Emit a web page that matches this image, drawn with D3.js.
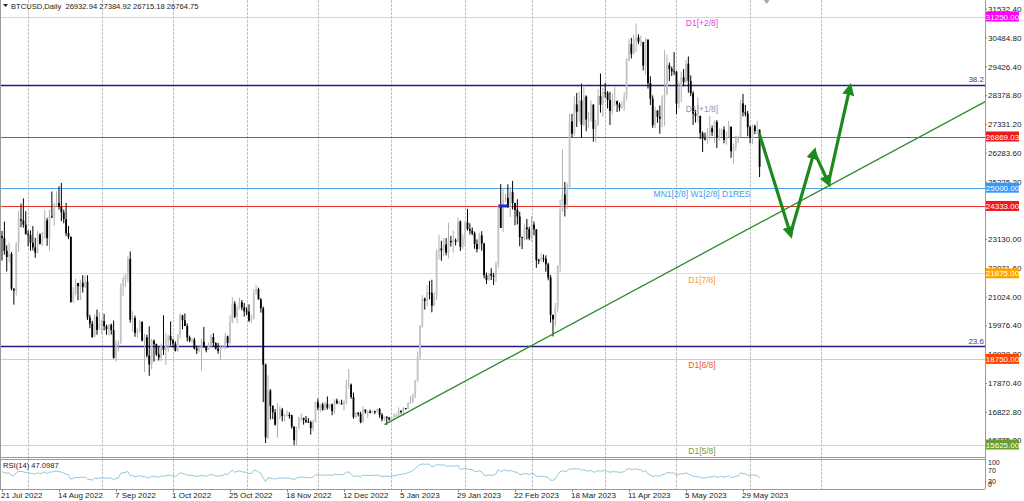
<!DOCTYPE html>
<meta charset="utf-8">
<head>
<title>BTCUSD Daily</title>
<style>
body { margin: 0; background: #fff; overflow: hidden; }
text { font-family: "Liberation Sans", Arial, sans-serif; }
</style>
</head>
<body>
<script src="https://d3js.org/d3.v7.min.js"></script>
<div id="chart"></div>
<script>

// daily bars from 7 Jul 2022 (first 14 bars sit left of the window)
var firstDay = Date.UTC(2022, 6, 7);
var firstOpen = 20550;

var closes = [
  21600,21590,21590,20860,19970,19330,20210,20570,20840,21190,20780,22490,23390,23230,23160,22700,22470,22580,21310,21250,22950,23850,23800,23650,23300,
  23270,22990,22820,22630,23290,22960,23180,23810,23160,23950,23940,24400,24440,24300,24100,23850,23340,23210,20830,21140,21520,21400,21530,21370,21570,20260,20040,19550,20290,19810,20050,
  20130,19950,19830,19990,19800,18790,19290,19320,21380,21650,21830,22400,20180,20240,19700,19800,20110,19420,19540,18880,18550,19410,19290,18920,18800,19220,19080,19410,19590,19430,
  19310,19050,19620,20340,20160,19950,19530,19420,19450,19130,19060,19150,19380,19180,19070,19260,19550,19330,19120,19040,19170,19200,19570,19330,20090,20770,20290,20600,20820,20630,20490,
  20480,20150,20210,21150,21300,20920,20600,18540,15880,17590,17040,16800,16350,16620,16900,16660,16690,16700,16690,16280,15780,16230,16600,16600,16520,16460,16440,16220,16440,17170,
  16970,17090,16890,17110,16970,17090,16840,17230,17130,17130,17090,17210,17780,17810,17360,16630,16780,16740,16440,16900,16820,16830,16780,16840,16830,16920,16700,16550,16640,16600,16540,
  16620,16680,16680,16850,16830,16950,16940,17130,17190,17440,17940,18850,19930,20950,20870,21170,21160,20690,21080,22680,22780,22710,22930,22630,23060,23010,23080,23030,23770,22840,23130,
  23730,23490,23430,23330,22940,22760,23260,22960,21800,21630,21860,21790,21780,22200,24330,23530,24570,24630,24280,24840,24440,24190,23950,23200,23160,23550,23490,23150,
  23650,23480,22360,22350,22430,22410,22200,21720,20360,20190,20630,22160,24200,24750,24380,25050,27420,26970,28040,27770,28180,27300,28330,27490,27490,28030,27140,27270,28350,28030,28480,
  28460,28200,27800,28170,28170,28040,27920,27950,28330,29650,30240,29890,30400,30490,30320,30320,29450,30400,28820,28250,27280,27820,27590,27520,28300,28420,29470,29340,29250,29230,
  28070,28680,29030,28850,29530,28900,28450,27700,27620,27620,26990,26800,26780,26930,27170,27030,27400,26830,26890,27120,26750,26850,27230,26330,26480,26720,26870,28080,27750,27700,27210,
  26820,27250,27070,27120,25760
];
var highs = [
  21810,22300,21680,21600,20860,20010,20220,20790,21160,21560,21650,22700,23740,24200,23420,23760,22900,23000,22650,21330,23010,24140,24420,24610,24140,
  23440,23440,23600,23170,23430,23340,23390,24200,23900,24190,24860,24440,24870,25050,25170,24200,24450,23600,23200,21370,21680,21520,21650,21800,21800,21800,20360,20140,20380,20550,20450,
  20190,20400,20000,20020,20040,20150,19430,19420,21500,21750,21830,22490,22670,20490,20330,19890,20170,20100,19660,19630,19940,19480,19460,19310,19180,19310,20340,19700,19630,20120,
  19480,19390,19650,20410,20360,20410,20040,19600,19520,19520,19230,19200,19490,19920,19210,19350,19650,19690,19360,19330,19240,19250,19690,19600,20340,21000,20860,20700,20990,20900,20790,
  20640,20740,20370,21300,21450,21350,20970,20660,18580,18150,17650,17050,16920,17140,17020,16960,16740,16870,16800,16720,16290,16280,16640,16760,16600,16670,16590,16490,16530,17200,
  17300,17100,17150,17180,17380,17100,17120,17280,17300,17220,17260,17240,17980,18380,17850,17520,16800,16810,16820,17020,16900,16860,16900,16860,16860,16940,16960,16770,16650,16650,16630,
  16630,16760,16760,16980,16880,16990,16960,17170,17390,17480,17990,19020,19990,21080,20990,21440,21600,21640,21190,22750,23280,23060,23160,23160,23720,23240,23430,23150,23910,23800,23290,
  23790,24230,23700,23550,23400,23110,23360,23410,22990,21900,21890,22060,21890,22300,24360,25130,25000,24780,25120,25020,25250,24450,24580,24120,23210,23660,23860,23580,
  23960,23760,23480,22410,22600,22560,22530,22260,21810,20360,20790,22160,24570,26390,25210,25180,27690,27700,28360,28460,28500,28800,28730,28370,27760,28180,28050,27480,28600,29170,28640,
  28820,28530,28500,28440,28670,28170,28110,28150,28490,29730,30430,30470,30580,31000,30600,30550,30320,30470,30420,29070,28370,27950,27820,28000,28370,30020,29860,29570,29420,29950,
  29260,28880,29230,29330,29670,29790,29100,28520,27840,28300,27630,27050,27010,27170,27620,27270,27460,27470,27170,27150,27240,27050,27440,27230,26610,26900,26900,28210,28420,28020,27810,
  27270,27300,27300,27450,27130
];
var lows = [
  20240,21040,21320,20690,19940,19260,18970,19650,20410,20510,20770,20770,21690,23060,22340,22560,21940,22280,21250,20730,21070,22650,23560,23540,23300,
  22860,22700,22710,22440,22590,22920,22880,23150,22880,22700,23900,23600,24310,24200,23780,23700,23230,23120,20800,20810,21070,20890,20890,21170,21340,20170,19870,19520,19600,19630,19800,
  19650,19790,19630,19600,19640,18760,18640,19030,19310,21050,21380,21560,20070,19730,19560,19520,19710,19390,18270,18800,18130,18370,18650,18860,18690,18680,18890,18520,19010,19240,
  19160,19020,19010,19500,19830,19950,19390,19360,19320,19090,18930,18990,18310,19150,18990,19070,19180,19200,19090,18940,18710,19130,19090,19160,19270,20060,20240,20050,20560,20530,20290,
  20340,20100,20070,20190,21090,20920,20440,17170,15680,15820,16540,16550,16310,15870,16550,16470,16460,16640,16570,16200,15600,15600,16180,16460,16350,16410,16430,15990,16110,16440,
  16880,16800,16860,16880,16900,16910,16690,16740,17100,17090,17080,16870,17090,17660,17290,16560,16590,16650,16400,16430,16750,16600,16760,16780,16730,16790,16600,16470,16490,16340,16500,
  16500,16570,16620,16660,16750,16680,16910,16910,17100,17150,17320,17920,18720,19890,20550,20670,20920,20450,20670,20910,22380,22330,22500,22530,22420,22850,22630,22890,23000,22690,22760,
  22860,23440,23290,23260,22770,22640,22750,22700,21690,21480,21600,21630,21450,21550,22080,23540,23390,24470,24280,23930,24200,23630,23660,22860,22760,23080,23110,23080,
  23030,23260,22080,22210,22300,22280,21930,21620,20070,19570,19960,20450,21910,24120,23950,24220,24930,26830,26900,27220,27400,26810,27240,27060,27170,27400,26680,26650,27260,27740,27590,
  28280,27890,27290,27680,27970,27760,27790,27880,27810,28180,29630,29720,29880,29960,30240,30160,29280,29120,28620,28020,27180,27180,27370,26970,27210,27260,28380,28890,29080,29110,
  27680,27890,28130,28700,28830,28470,28340,27290,27380,27380,26770,26300,26720,26580,26760,26890,26640,26450,26710,26850,26620,26570,26840,26090,25870,26350,26630,26840,27600,27600,26880,
  26620,26600,26950,26960,25390
];

var priceTicks = [31532.40, 30484.80, 29426.40, 28378.80, 27331.20, 26283.60, 25225.20,
  23130.00, 22071.60, 21024.00, 19976.40, 18928.80, 17870.40, 16822.80, 15775.20];
var dateTicks = ["2022-07-21", "2022-08-14", "2022-09-07", "2022-10-01", "2022-10-25", "2022-11-18",
  "2022-12-12", "2023-01-05", "2023-01-29", "2023-02-22", "2023-03-18", "2023-04-11", "2023-05-05", "2023-05-29"];

// murrey levels
var levelPrices = [31250, 28125, 25000, 21875, 18750, 15625];
var levelNames = ["D1[+2/8]", "D1[+1/8]", "MN1[2/8] W1[2/8] D1RES", "D1[7/8]", "D1[6/8]", "D1[5/8]"];
var redLevels = [26869.03, 24333];
var fibPrices = [28760, 19210];
var fibNames = ["38.2", "23.6"];
var tagPrices = [31250, 26869.03, 25000, 24333, 21875, 18750, 15625];

// drawn forecast and trend line (date, price)
var arrowDates = ["2023-06-05", "2023-06-18", "2023-06-28", "2023-07-04", "2023-07-13"];
var arrowPrices = [26933, 23310, 26310, 25180, 28650];
var trendDates = ["2022-12-29", "2023-09-08"];
var trendPrices = [16350, 28140];
var markDates = ["2023-02-15", "2023-02-19"];
var markPrice = 24333;

var headerText = "BTCUSD,Daily  26932.94 27384.92 26715.18 26764.75";
var rsiText = "RSI(14) 47.0987";
var rsiTicks = [100, 70, 30, 0];

// styles
var levelLine = ["#f4bcf4", null, "#4aa3e8", "#f0dca8", "#ebc6b6", "#cdd4c2"];
var levelText = ["#dc44dc", "#8c96a8", "#3f9ce6", "#eea030", "#e45a36", "#76983e"];
var tagFill = ["#ff00ff", "#ee1a1a", "#3399ff", "#ee1a1a", "#ffa500", "#ff4500", "#6b9e2e"];

var width = 1024, height = 501;
var plotR = 985, mainB = 457, rsiT = 460, rsiB = 489;

var parse = d3.utcParse("%Y-%m-%d");
var dayOf = function (i) { return new Date(firstDay + i * 864e5); };

var x = d3.scaleUtc()
    .domain([parse("2022-07-21"), parse("2023-06-01")])
    .range([2, 750.1]);
var y = d3.scaleLinear()
    .domain([15625, 31250])
    .range([444.5, 16.5]);
var ry = d3.scaleLinear()
    .domain([0, 100])
    .range([488, 461]);

var bars = closes.map(function (c, i) {
  var o = i === 0 ? firstOpen : closes[i - 1];
  return { date: dayOf(i), o: o, h: Math.max(highs[i], o, c), l: Math.min(lows[i], o, c), c: c };
});

// RSI(14), Wilder smoothing
function rsi(vals, n) {
  var out = [], g = 0, l = 0;
  for (var i = 1; i < vals.length; i++) {
    var d = vals[i] - vals[i - 1];
    var up = Math.max(d, 0), dn = Math.max(-d, 0);
    if (i <= n) { g += up / n; l += dn / n; }
    else { g = (g * (n - 1) + up) / n; l = (l * (n - 1) + dn) / n; }
    if (i >= n) out.push({ date: dayOf(i), v: l === 0 ? 100 : 100 - 100 / (1 + g / l) });
  }
  return out;
}
var rsiData = rsi(closes, 14);

var svg = d3.select("#chart").append("svg")
    .attr("width", width)
    .attr("height", height)
    .style("display", "block");

var defs = svg.append("defs");
defs.append("clipPath").attr("id", "mainClip")
  .append("rect").attr("x", 0).attr("y", 0).attr("width", plotR).attr("height", mainB);
defs.append("clipPath").attr("id", "rsiClip")
  .append("rect").attr("x", 0).attr("y", rsiT).attr("width", plotR).attr("height", rsiB - rsiT);
defs.append("marker").attr("id", "head")
    .attr("viewBox", "0 0 10 10").attr("refX", 6).attr("refY", 5)
    .attr("markerWidth", 3.8).attr("markerHeight", 3.8)
    .attr("orient", "auto")
  .append("path").attr("d", "M0,0L10,5L0,10z").attr("fill", "#1c8a1c");

// month grid
var months = d3.utcMonth.range(parse("2022-07-21"), parse("2023-07-15"));
svg.append("g").selectAll("line").data(months).enter().append("line")
    .attr("x1", function (d) { return Math.round(x(d)) + 0.5; })
    .attr("x2", function (d) { return Math.round(x(d)) + 0.5; })
    .attr("y1", 0).attr("y2", rsiB)
    .attr("stroke", "#c4c4c4").attr("stroke-dasharray", "3,1");

var main = svg.append("g").attr("clip-path", "url(#mainClip)");

// level lines
levelPrices.forEach(function (p, i) {
  if (!levelLine[i]) return;
  main.append("line").attr("x1", 0).attr("x2", plotR)
      .attr("y1", Math.round(y(p)) + 0.5).attr("y2", Math.round(y(p)) + 0.5)
      .attr("stroke", levelLine[i]).attr("stroke-width", 1.2);
});
redLevels.forEach(function (p) {
  main.append("line").attr("x1", 0).attr("x2", plotR)
      .attr("y1", Math.round(y(p)) + 0.5).attr("y2", Math.round(y(p)) + 0.5)
      .attr("stroke", "#e6322c").attr("stroke-width", 1.2);
});
fibPrices.forEach(function (p, i) {
  main.append("line").attr("x1", 0).attr("x2", plotR)
      .attr("y1", Math.round(y(p)) + 0.5).attr("y2", Math.round(y(p)) + 0.5)
      .attr("stroke", "#1e1e86").attr("stroke-width", 1.4);
  main.append("text").attr("x", plotR - 1).attr("y", y(p) - 2.5)
      .attr("text-anchor", "end").attr("font-size", "8px").attr("fill", "#3a3a9a")
      .text(fibNames[i]);
});

// candles
var candles = main.append("g").selectAll("g").data(bars).enter().append("g");
candles.append("line")
    .attr("x1", function (d) { return x(d.date); })
    .attr("x2", function (d) { return x(d.date); })
    .attr("y1", function (d) { return y(d.h); })
    .attr("y2", function (d) { return y(d.l); })
    .attr("stroke", function (d) { return d.c >= d.o ? "#b0b0b0" : "#000"; })
    .attr("stroke-width", 1);
candles.append("rect")
    .attr("x", function (d) { return x(d.date) - 0.9; })
    .attr("width", 1.8)
    .attr("y", function (d) { return y(Math.max(d.o, d.c)); })
    .attr("height", function (d) { return Math.max(1, Math.abs(y(d.o) - y(d.c))); })
    .attr("fill", function (d) { return d.c >= d.o ? "#c4c4c4" : "#000"; });

// small trade mark
main.append("rect")
    .attr("x", x(parse(markDates[0]))).attr("width", x(parse(markDates[1])) - x(parse(markDates[0])))
    .attr("y", y(markPrice) - 1.5).attr("height", 3)
    .attr("fill", "#2a2ad0");

// level labels
levelPrices.forEach(function (p, i) {
  main.append("text").attr("x", 702).attr("y", y(p) + 9.5)
      .attr("text-anchor", "middle").attr("font-size", "8.5px").attr("fill", levelText[i])
      .text(levelNames[i]);
});

// trend line
var tA = [x(parse(trendDates[0])), y(trendPrices[0])];
var tB = [x(parse(trendDates[1])), y(trendPrices[1])];
main.append("line")
    .attr("x1", tA[0]).attr("y1", tA[1]).attr("x2", tB[0]).attr("y2", tB[1])
    .attr("stroke", "#2e8b2e").attr("stroke-width", 1.3);

// forecast arrows
var pts = arrowDates.map(function (d, i) { return [x(parse(d)), y(arrowPrices[i])]; });
for (var k = 0; k < pts.length - 1; k++) {
  main.append("line")
      .attr("x1", pts[k][0]).attr("y1", pts[k][1])
      .attr("x2", pts[k + 1][0]).attr("y2", pts[k + 1][1])
      .attr("stroke", "#1c8a1c").attr("stroke-width", 3.2)
      .attr("stroke-linecap", "round")
      .attr("marker-end", "url(#head)");
}

// header
svg.append("path").attr("d", "M3,4L8,4L5.5,7z").attr("fill", "#222");
svg.append("text").attr("x", 11).attr("y", 9).attr("font-size", "7.6px").attr("fill", "#222")
    .attr("xml:space", "preserve").style("white-space", "pre").text(headerText);
svg.append("path").attr("d", "M" + (x(bars[bars.length - 1].date) + 4) + ",0l6,0l-3,4z").attr("fill", "#a8a8a8");

// rsi pane
var rsiG = svg.append("g").attr("clip-path", "url(#rsiClip)");
rsiG.append("path").datum(rsiData)
    .attr("fill", "none").attr("stroke", "#93c6db").attr("stroke-width", 1)
    .attr("d", d3.line().x(function (d) { return x(d.date); }).y(function (d) { return ry(d.v); }));
svg.append("text").attr("x", 3).attr("y", 468).attr("font-size", "7.6px").attr("fill", "#222").text(rsiText);

// frames
svg.append("line").attr("x1", 0).attr("x2", plotR).attr("y1", mainB + 0.5).attr("y2", mainB + 0.5).attr("stroke", "#9a9a9a");
svg.append("line").attr("x1", 0).attr("x2", plotR).attr("y1", rsiT - 0.5).attr("y2", rsiT - 0.5).attr("stroke", "#9a9a9a");
svg.append("line").attr("x1", 0).attr("x2", plotR).attr("y1", rsiB + 0.5).attr("y2", rsiB + 0.5).attr("stroke", "#9a9a9a");
svg.append("line").attr("x1", plotR + 0.5).attr("x2", plotR + 0.5).attr("y1", 0).attr("y2", rsiB).attr("stroke", "#9a9a9a");
svg.append("line").attr("x1", 0.5).attr("x2", 0.5).attr("y1", 0).attr("y2", rsiB).attr("stroke", "#9a9a9a");

// price axis
var yAxis = svg.append("g").attr("transform", "translate(" + plotR + ",0)")
    .call(d3.axisRight(y).tickValues(priceTicks).tickFormat(d3.format(".2f")).tickSize(2));
yAxis.select(".domain").remove();
yAxis.selectAll("line").attr("stroke", "#888");
yAxis.selectAll("text").attr("x", 3).attr("font-size", "8px").attr("fill", "#222")
    .attr("font-family", "Liberation Sans, Arial, sans-serif");

tagPrices.forEach(function (p, i) {
  var g = svg.append("g").attr("transform", "translate(" + (plotR + 1) + "," + y(p) + ")");
  g.append("rect").attr("x", 0).attr("y", -5).attr("width", 33).attr("height", 10).attr("fill", tagFill[i]);
  g.append("text").attr("x", 16.5).attr("y", 3).attr("text-anchor", "middle")
      .attr("font-size", "8px").attr("fill", "#fff").text(d3.format(".2f")(p));
});

rsiTicks.forEach(function (v) {
  svg.append("text").attr("x", 988).attr("y", Math.min(Math.max(ry(v) + 4, 465), 487))
      .attr("font-size", "7px").attr("fill", "#222").text(v);
});

// date axis
var dFmt = d3.utcFormat("%-d %b %Y");
svg.append("g").selectAll("text").data(dateTicks).enter().append("text")
    .attr("x", function (d) { return x(parse(d)) - 1; })
    .attr("y", 498)
    .attr("font-size", "8px").attr("fill", "#222")
    .text(function (d) { return dFmt(parse(d)); });
svg.append("g").selectAll("line").data(dateTicks).enter().append("line")
    .attr("x1", function (d) { return Math.round(x(parse(d))) + 0.5; })
    .attr("x2", function (d) { return Math.round(x(parse(d))) + 0.5; })
    .attr("y1", rsiB).attr("y2", rsiB + 3).attr("stroke", "#888");

</script>
</body>
